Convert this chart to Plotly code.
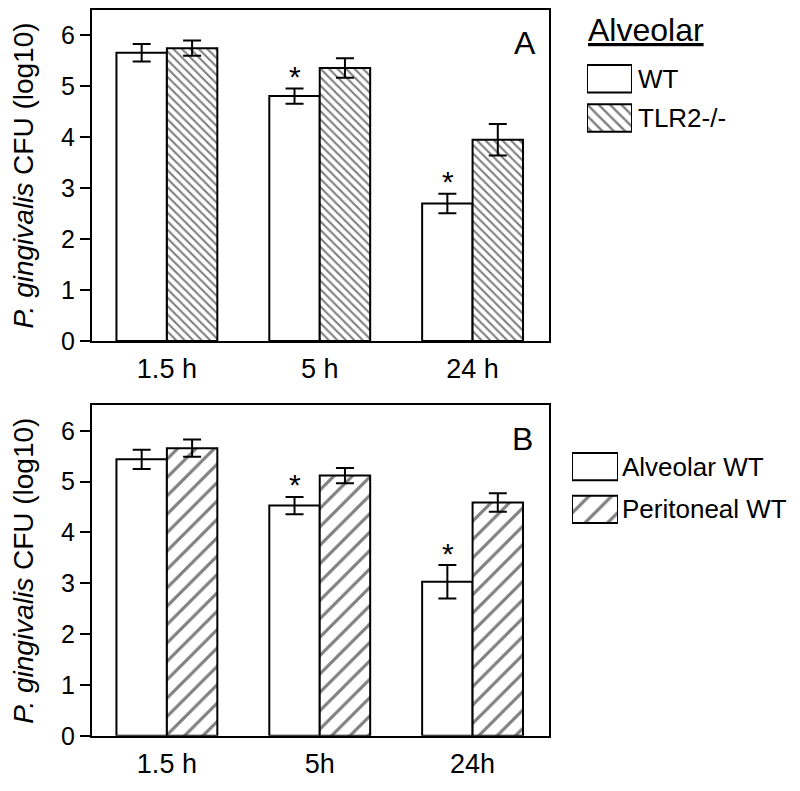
import plotly.graph_objects as go

# panel A: alveolar macrophages, WT vs TLR2-/-
times_a = ['1.5 h', '5 h', '24 h']
wt_a = [5.66, 4.81, 2.70]
wt_a_err = [0.17, 0.15, 0.19]
tlr2_a = [5.75, 5.36, 3.95]
tlr2_a_err = [0.15, 0.19, 0.31]

# panel B: alveolar WT vs peritoneal WT
times_b = ['1.5 h', '5h', '24h']
alv_b = [5.44, 4.53, 3.03]
alv_b_err = [0.19, 0.17, 0.33]
per_b = [5.66, 5.12, 4.59]
per_b_err = [0.17, 0.15, 0.18]

# which WT bars carry an asterisk
star_a = ['5 h', '24 h']
star_b = ['5h', '24h']

FONT = 'Liberation Sans, Arial, sans-serif'

# the page body has an 8px margin, so the figure is 8px smaller and
# positions are given in window pixels and converted here
W, H, OFF = 792, 783, 8
def px(x):
    return (x - OFF) / W
def py(y):
    return 1 - (y - OFF) / H

fig = go.Figure()

def err(arr):
    return dict(type='data', array=arr, color='black', thickness=2, width=9)

white = dict(color='white', line=dict(color='black', width=2))
hatch_a = dict(color='white', line=dict(color='black', width=2),
               pattern=dict(shape='\\', size=6, solidity=0.36, fgcolor='black', bgcolor='white'))
hatch_b = dict(color='white', line=dict(color='black', width=2),
               pattern=dict(shape='/', size=13, solidity=0.24, fgcolor='black', bgcolor='white'))

fig.add_trace(go.Bar(name='WT', x=times_a, y=wt_a, error_y=err(wt_a_err),
                     marker=white, xaxis='x', yaxis='y'))
fig.add_trace(go.Bar(name='TLR2-/-', x=times_a, y=tlr2_a, error_y=err(tlr2_a_err),
                     marker=hatch_a, xaxis='x', yaxis='y'))
fig.add_trace(go.Bar(name='Alveolar WT', x=times_b, y=alv_b, error_y=err(alv_b_err),
                     marker=white, xaxis='x2', yaxis='y2'))
fig.add_trace(go.Bar(name='Peritoneal WT', x=times_b, y=per_b, error_y=err(per_b_err),
                     marker=hatch_b, xaxis='x2', yaxis='y2'))

# legend swatches drawn on small hidden axes
leg_a_hatch = dict(hatch_a, pattern=dict(shape='\\', size=8, solidity=0.3, fgcolor='black', bgcolor='white'))
leg_b_hatch = dict(hatch_b, pattern=dict(shape='/', size=16, solidity=0.2, fgcolor='black', bgcolor='white'))
fig.add_trace(go.Bar(x=[1], y=[1], orientation='h', width=0.7, marker=white,
                     xaxis='x3', yaxis='y3', hoverinfo='skip', cliponaxis=False))
fig.add_trace(go.Bar(x=[1], y=[0], orientation='h', width=0.7, marker=leg_a_hatch,
                     xaxis='x3', yaxis='y3', hoverinfo='skip', cliponaxis=False))
fig.add_trace(go.Bar(x=[1], y=[1], orientation='h', width=0.64, marker=white,
                     xaxis='x4', yaxis='y4', hoverinfo='skip', cliponaxis=False))
fig.add_trace(go.Bar(x=[1], y=[0], orientation='h', width=0.64, marker=leg_b_hatch,
                     xaxis='x4', yaxis='y4', hoverinfo='skip', cliponaxis=False))

xa = dict(showline=True, linecolor='black', linewidth=2, mirror=True, ticks='',
          showgrid=False, zeroline=False, range=[-0.49, 2.5],
          tickfont=dict(family=FONT, size=27, color='black'), ticklabelstandoff=3)
ya = dict(showline=True, linecolor='black', linewidth=2, mirror=True, ticks='outside',
          ticklen=10, tickwidth=2, tickcolor='black', showgrid=False, zeroline=False,
          range=[0, 6.5], tickvals=[0, 1, 2, 3, 4, 5, 6],
          tickfont=dict(family=FONT, size=25, color='black'),
          title=dict(text='<i>P. gingivalis</i> CFU (log10)', standoff=22,
                     font=dict(family=FONT, size=28, color='black')))
hidden = dict(visible=False, fixedrange=True)

fig.update_layout(
    width=W, height=H,
    margin=dict(l=0, r=0, t=0, b=0),
    paper_bgcolor='white', plot_bgcolor='white',
    barmode='group', bargap=0.34, bargroupgap=0,
    xaxis=dict(xa, domain=[px(92), px(549)], anchor='y'),
    yaxis=dict(ya, domain=[py(347), py(10)], anchor='x'),
    xaxis2=dict(xa, domain=[px(92), px(549)], anchor='y2'),
    yaxis2=dict(ya, domain=[py(749), py(412.7)], anchor='x2'),
    xaxis3=dict(hidden, domain=[px(587), px(632)], range=[0, 1], anchor='y3'),
    yaxis3=dict(hidden, domain=[py(140), py(60)], range=[-0.5, 1.5], anchor='x3'),
    xaxis4=dict(hidden, domain=[px(572), px(618)], range=[0, 1], anchor='y4'),
    yaxis4=dict(hidden, domain=[py(540.25), py(453.25)], range=[-0.5, 1.5], anchor='x4'),
    showlegend=False,
)

ann = []
# asterisks above WT bars
for xs, ys, es, stars, ax in [(times_a, wt_a, wt_a_err, star_a, ''), (times_b, alv_b, alv_b_err, star_b, '2')]:
    for t, v, e in zip(xs, ys, es):
        if t in stars:
            ann.append(dict(x=t, y=v + e, xref='x' + ax, yref='y' + ax, text='*', showarrow=False,
                            xshift=-25, yshift=12, yanchor='middle',
                            font=dict(family=FONT, size=30, color='black')))

ann.append(dict(x=0.975, y=0.96, xref='x domain', yref='y domain', text='A', showarrow=False,
                xanchor='right', yanchor='top', font=dict(family=FONT, size=32, color='black')))
ann.append(dict(x=0.97, y=0.96, xref='x2 domain', yref='y2 domain', text='B', showarrow=False,
                xanchor='right', yanchor='top', font=dict(family=FONT, size=32, color='black')))

ann.append(dict(x=px(586), y=py(30), xref='paper', yref='paper', text='<u>Alveolar</u>',
                showarrow=False, xanchor='left', yanchor='middle',
                font=dict(family=FONT, size=32, color='black')))
for txt, yy in [('WT', 80), ('TLR2-/-', 120)]:
    ann.append(dict(x=px(636), y=py(yy), xref='paper', yref='paper', text=txt,
                    showarrow=False, xanchor='left', yanchor='middle',
                    font=dict(family=FONT, size=26, color='black')))
for txt, yy in [('Alveolar WT', 475), ('Peritoneal WT', 518.5)]:
    ann.append(dict(x=px(620), y=py(yy), xref='paper', yref='paper', text=txt,
                    showarrow=False, xanchor='left', yanchor='middle',
                    font=dict(family=FONT, size=26, color='black')))

fig.update_layout(annotations=ann)

fig.write_html('out.html')
